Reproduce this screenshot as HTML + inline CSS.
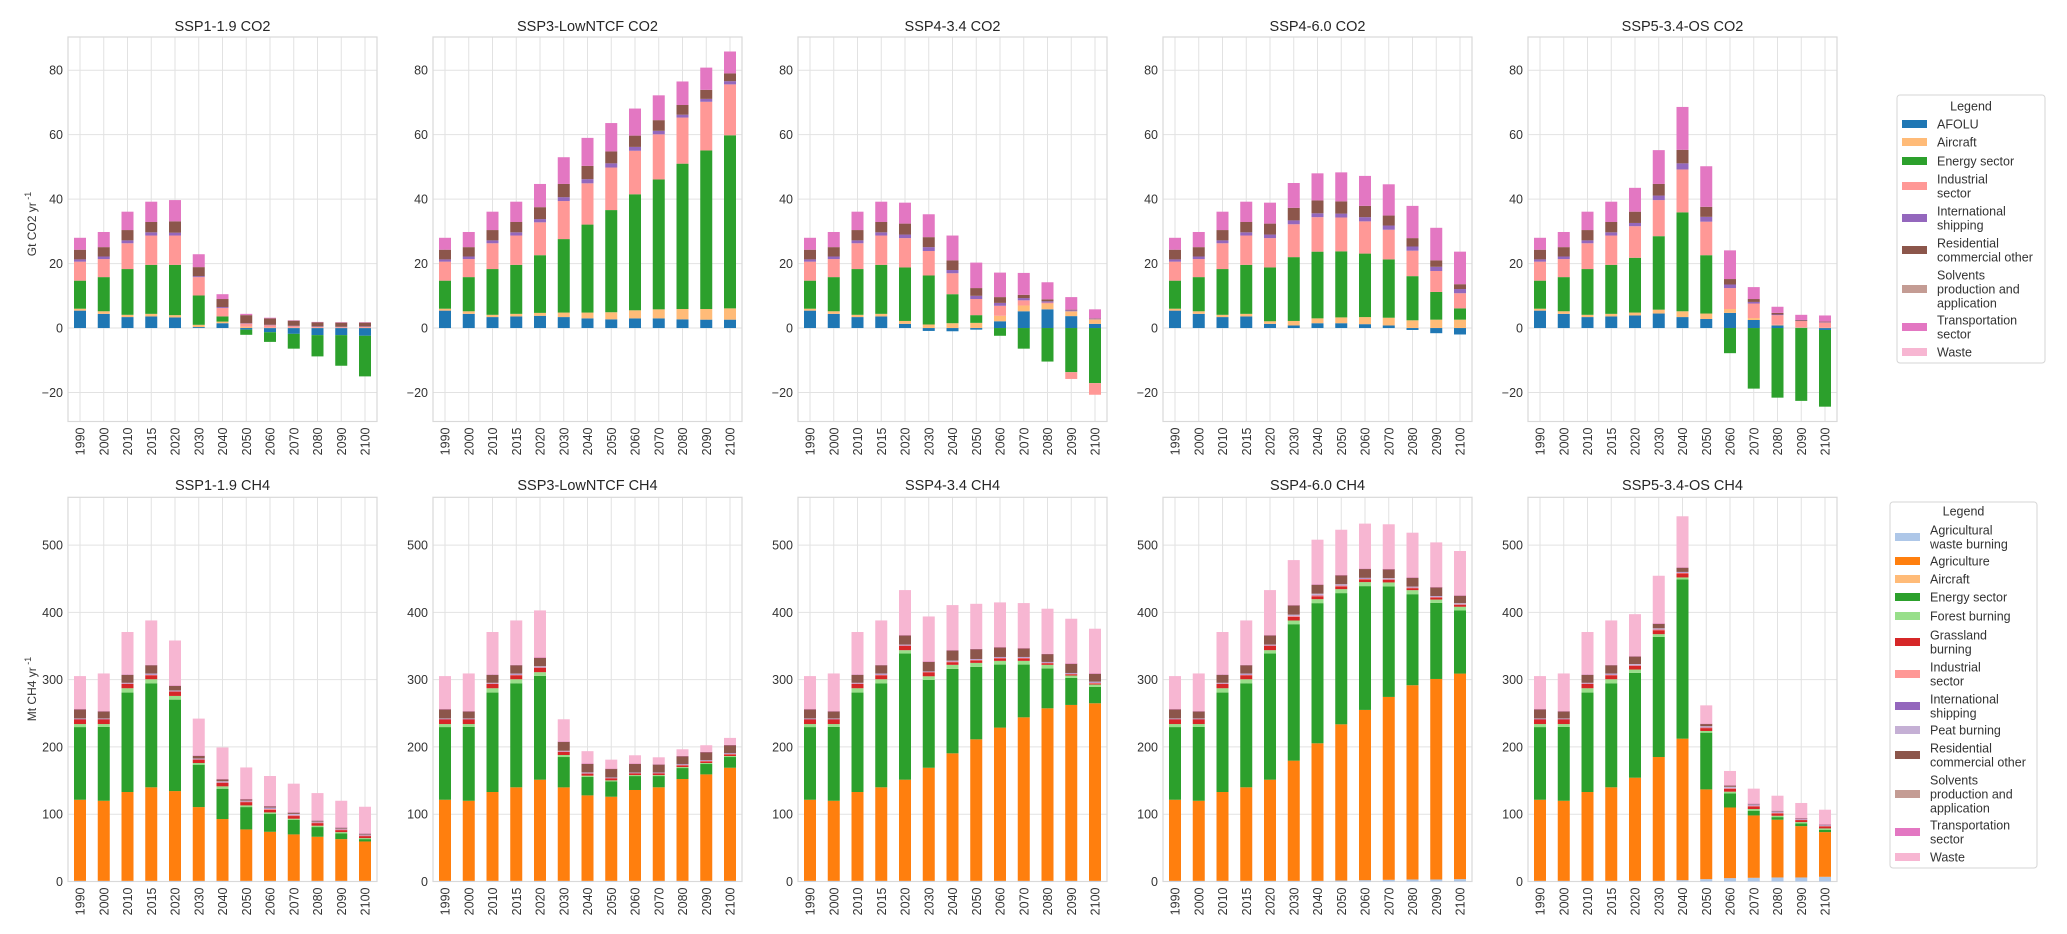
<!DOCTYPE html>
<html><head><meta charset="utf-8">
<style>
html,body{margin:0;padding:0;background:#fff;}
svg{display:block;font-family:"Liberation Sans",sans-serif;}
</style></head>
<body>
<svg id="chart" width="2067" height="934" viewBox="0 0 2067 934" xmlns="http://www.w3.org/2000/svg"></svg>
<script>
const years = ["1990","2000","2010","2015","2020","2030","2040","2050","2060","2070","2080","2090","2100"];
const co2Titles = ["SSP1-1.9 CO2","SSP3-LowNTCF CO2","SSP4-3.4 CO2","SSP4-6.0 CO2","SSP5-3.4-OS CO2"];
const ch4Titles = ["SSP1-1.9 CH4","SSP3-LowNTCF CH4","SSP4-3.4 CH4","SSP4-6.0 CH4","SSP5-3.4-OS CH4"];
const co2Ticks = [-20,0,20,40,60,80];
const ch4Ticks = [0,100,200,300,400,500];

// CO2 series (Gt CO2/yr) per scenario
const co2Afolu = [
 [5.4,4.4,3.4,3.6,3.3,0.3,1.5,-0.5,-1.3,-1.8,-2.2,-2.2,-2.4],
 [5.4,4.4,3.4,3.6,3.8,3.4,3.0,2.7,3.0,3.0,2.7,2.6,2.6],
 [5.4,4.4,3.4,3.6,1.3,-0.9,-1.0,-0.5,2.1,5.2,5.8,3.7,1.3],
 [5.4,4.4,3.4,3.6,1.3,0.8,1.5,1.5,1.2,0.8,-0.6,-1.6,-2.0],
 [5.4,4.4,3.4,3.6,3.9,4.5,3.4,2.8,4.7,2.5,0.8,0.1,-0.6]];
const co2Aircraft = [
 [0.6,0.8,0.7,0.8,0.7,0.7,0.5,0.4,0.1,0.1,0.1,0.1,0.1],
 [0.6,0.8,0.7,0.8,0.9,1.4,1.8,2.2,2.5,2.8,3.2,3.3,3.5],
 [0.6,0.8,0.7,0.8,0.9,1.1,1.5,1.6,1.7,1.8,1.8,1.5,1.4],
 [0.6,0.8,0.7,0.8,0.8,1.4,1.5,1.8,2.2,2.4,2.4,2.6,2.6],
 [0.6,0.8,0.7,0.8,0.9,1.2,1.8,1.7,1.2,0.6,0.2,0.1,0.1]];
const co2Energy = [
 [8.7,10.6,14.2,15.2,15.6,9.1,1.6,-1.6,-3.0,-4.6,-6.6,-9.5,-12.6],
 [8.7,10.6,14.2,15.2,17.9,22.8,27.3,31.7,36.0,40.3,45.1,49.2,53.7],
 [8.7,10.6,14.2,15.2,16.6,15.2,9.0,2.4,-2.4,-6.4,-10.4,-13.7,-17.1],
 [8.7,10.6,14.2,15.2,16.7,19.8,20.7,20.5,19.7,18.1,13.7,8.6,3.5],
 [8.7,10.6,14.2,15.2,17.0,22.8,30.7,18.1,-7.8,-18.8,-21.6,-22.6,-23.8]];
const co2Industrial = [
 [5.9,5.6,8.0,9.1,9.1,5.7,2.6,1.0,0.8,0.5,0.3,0.2,0.3],
 [5.9,5.6,8.0,9.1,10.2,11.8,12.8,13.2,13.5,14.0,14.3,15.1,15.8],
 [5.9,5.6,8.0,9.1,9.1,7.6,6.5,5.0,3.1,1.6,0.3,-2.1,-3.6],
 [5.9,5.6,8.0,9.1,9.1,10.2,10.7,10.5,10.0,9.2,7.9,6.5,4.7],
 [5.9,5.6,8.0,9.1,9.8,11.2,13.3,10.4,6.5,4.5,3.0,2.0,1.6]];
const co2Shipping = [
 [0.7,0.8,0.9,1.0,0.9,0.3,0.3,0.1,0.1,0.1,0.1,0.1,0.1],
 [0.7,0.8,0.9,1.0,1.0,1.2,1.3,1.3,1.2,1.1,0.9,0.9,1.0],
 [0.7,0.8,0.9,1.0,1.1,1.2,1.0,1.0,0.9,0.7,0.4,0.3,0.2],
 [0.7,0.8,0.9,1.0,1.1,1.2,1.2,1.2,1.3,1.3,1.3,1.3,1.3],
 [0.7,0.8,0.9,1.0,1.0,1.4,1.9,1.5,1.1,0.5,0.2,0.1,0.1]];
const co2Residential = [
 [3.0,2.9,3.2,3.2,3.5,2.8,2.5,2.5,2.0,1.6,1.3,1.3,1.2],
 [3.0,2.9,3.2,3.2,3.7,4.1,4.1,3.7,3.5,3.3,3.0,2.8,2.4],
 [3.0,2.9,3.2,3.2,3.4,3.1,3.0,2.4,1.8,1.0,0.6,0.2,0.1],
 [3.0,2.9,3.2,3.2,3.4,3.9,4.0,3.8,3.5,3.1,2.6,2.0,1.5],
 [3.0,2.9,3.2,3.2,3.5,3.6,4.2,3.1,1.7,0.9,0.5,0.2,0.2]];
const co2Transport = [
 [3.7,4.7,5.7,6.3,6.6,4.0,1.5,0.4,0.2,0.1,0.1,0.1,0.1],
 [3.7,4.7,5.7,6.3,7.2,8.3,8.7,8.8,8.4,7.7,7.3,6.9,6.8],
 [3.7,4.7,5.7,6.3,6.5,7.1,7.7,7.9,7.6,6.8,5.3,3.9,2.8],
 [3.7,4.7,5.7,6.3,6.5,7.7,8.4,9.0,9.3,9.7,10.0,10.1,10.1],
 [3.7,4.7,5.7,6.3,7.4,10.5,13.3,12.6,8.9,3.7,1.9,1.6,1.9]];

// CH4 series (Mt CH4/yr) per scenario
const ch4AgWaste = [
 [1,1,1,1,1,1,1,1,1,1,1,1,1],
 [1,1,1,1,1,1,1,1,1,1,1,1,1],
 [1,1,1,1,1,1,1,1,1,1,1,1,1],
 [1,1,1,1,1,1,1,1.5,2,2.5,3,3,3.5],
 [1,1,1,1,1,1,2,3.5,5,5.5,6,6,7]];
const ch4Agriculture = [
 [120.5,119,132,139,133.4,109.6,91.8,76.4,72.9,69,65.5,62,58.5],
 [120.5,119,132,139,150.3,138.9,127,125,135,139,151.3,158.2,168.1],
 [120.5,119,132,139,150.3,168.1,189.5,210.3,227.7,243,256.4,261.4,263.9],
 [120.5,119,132,139,150.3,178.6,204.4,232.1,253,271.8,288.7,298,305.5],
 [120.5,119,132,139,153.3,184,210.3,133.4,105,92.7,85.8,76.3,66.4]];
const ch4Energy = [
 [108,109.7,147.8,154.6,135.9,63,45.1,33.2,26.8,21.8,14.4,8.4,3.5],
 [108,109.7,147.8,154.6,154.3,45.1,27.3,22.8,20.7,16.7,16.3,15.4,15.9],
 [108,109.7,147.8,154.6,187.5,130.5,125.5,107.6,93.7,78.4,59.1,40.2,24.3],
 [108,109.7,147.8,154.6,187.5,202.8,208.3,195,184,164.2,135.3,113,93.8],
 [108,109.7,147.8,154.6,155.7,178.6,236.7,84.3,21,7,3.9,4,3.5]];
const ch4Forest = [
 [4.5,4.3,6.4,6,5.5,2.5,3.5,2.5,2,1.5,2,2,1.5],
 [4.5,4.3,6.4,6,5.5,3,2,1.5,1.5,1.5,1.5,1.5,1.5],
 [4.5,4.3,6.4,6,5,5.4,6,6,5.5,5.5,5.5,3.5,3.5],
 [4.5,4.3,6.4,6,5,5.5,5.9,5.9,6,6,6,5,5.5],
 [4.5,4.3,6.4,6,5,4,2.9,2.5,2.5,2.5,2,2,2]];
const ch4Grassland = [
 [7,7,6.6,6,6.4,5,5.3,4.9,4,4,3.9,3,3],
 [7,7,6.6,6,6.5,4.5,3,3,2.5,2.5,2.5,2.5,2.5],
 [7,7,6.6,6,6.5,6,4,3.5,3.5,3.5,2.5,2,1.5],
 [7,7,6.6,6,6.5,5.4,4.4,4,4,4,3,3,3],
 [7,7,6.6,6,5.4,5.9,5.9,4.3,4,4,3.5,3,3]];
const ch4Industrial = [
 [0.5,0.5,0.5,0.8,0.8,0.8,1,1,1.4,1.4,1,1,1],
 [0.5,0.5,0.5,0.8,1,0.8,0.8,0.6,0.6,0.6,0.8,0.8,0.8],
 [0.5,0.5,0.5,0.8,0.8,0.6,1,1,1,1,0.8,0.8,1.2],
 [0.5,0.5,0.5,0.8,0.8,1.4,1.6,1.4,1,1,1,1,1],
 [0.5,0.5,0.5,0.8,1.2,1.2,1,1.2,1.4,1.2,1.2,0.8,0.8]];
const ch4Shipping = [
 [0.2,0.2,0.3,0.3,0.3,0.3,0.3,0.3,0.4,0.4,0.4,0.4,0.4],
 [0.2,0.2,0.3,0.3,0.3,0.3,0.3,0.3,0.3,0.3,0.3,0.3,0.3],
 [0.2,0.2,0.3,0.3,0.3,0.3,0.3,0.3,0.3,0.3,0.3,0.3,0.3],
 [0.2,0.2,0.3,0.3,0.3,0.3,0.3,0.3,0.3,0.3,0.3,0.3,0.3],
 [0.2,0.2,0.3,0.3,0.3,0.3,0.3,0.3,0.3,0.3,0.3,0.3,0.3]];
const ch4Peat = [
 [0.6,0.6,0.7,1.4,0.6,0.6,0.9,0.9,1.4,1.4,0.8,0.8,0.8],
 [0.6,0.6,0.7,1.4,1,0.7,0.7,0.4,0.4,0.4,0.7,0.7,0.7],
 [0.6,0.6,0.7,1.4,0.7,0.4,1,1,1,1,0.7,0.7,1.3],
 [0.6,0.6,0.7,1.4,0.7,1.6,1.9,1.6,1,1,1,1,1],
 [0.6,0.6,0.7,1.4,1.3,1.3,1,1.3,1.6,1.3,1.3,0.7,0.7]];
const ch4Residential = [
 [13.5,10.4,12,12.4,7,4,3,2,1.9,2,1.5,1.5,1.5],
 [13.5,10.4,12,12.4,12.8,13.4,13,12.9,13,12,12,12,12],
 [13.5,10.4,12,12.4,13.8,14.4,15.3,14.8,14.4,12.9,11.9,13.9,12],
 [13.5,10.4,12,12.4,13.8,13.9,13.5,13.4,13.4,13.4,13.4,13,11.4],
 [13.5,10.4,12,12.4,11.4,6.9,6.5,3.5,2,1,1,1,1]];
const ch4Transport = [
 [0.5,0.5,0.5,0.5,0.3,0.3,0.3,0.3,0.3,0.3,0.3,0.3,0.3],
 [0.5,0.5,0.5,0.5,0.2,0.2,0.2,0.2,0.2,0.2,0.2,0.2,0.2],
 [0.5,0.5,0.5,0.5,0.2,0.2,0.2,0.2,0.2,0.2,0.2,0.2,0.2],
 [0.5,0.5,0.5,0.5,0.2,0.2,0.2,0.2,0.2,0.2,0.2,0.2,0.2],
 [0.5,0.5,0.5,0.5,0.2,0.2,0.2,0.2,0.2,0.2,0.2,0.2,0.2]];
const ch4Waste = [
 [49,56,63,66,67,55,47,47,44.7,42.6,40.6,39.6,39.6],
 [49,56,63,66,70,33.2,18.4,13.4,12.4,10.4,9.9,9.9,10.4],
 [49,56,63,66,67,67,67,67,66.5,67,67,66.5,66.5],
 [49,56,63,66,67,67,66.5,67.4,67,66.5,66.5,66.5,66],
 [49,56,63,66,62.5,71,76,27.3,21.3,22.3,22.3,22.4,21.8]];

const C = {afolu:"#1f77b4",aircraft:"#ffbb78",energy:"#2ca02c",industrial:"#ff9896",shipping:"#9467bd",
 residential:"#8c564b",solvents:"#c49c94",transport:"#e377c2",waste:"#f7b6d2",agwaste:"#aec7e8",
 agriculture:"#ff7f0e",forest:"#98df8a",grassland:"#d62728",peat:"#c5b0d5"};

const co2Series = [["afolu",co2Afolu],["aircraft",co2Aircraft],["energy",co2Energy],["industrial",co2Industrial],
 ["shipping",co2Shipping],["residential",co2Residential],["transport",co2Transport]];
const ch4Series = [["agwaste",ch4AgWaste],["agriculture",ch4Agriculture],["energy",ch4Energy],["forest",ch4Forest],
 ["grassland",ch4Grassland],["industrial",ch4Industrial],["shipping",ch4Shipping],["peat",ch4Peat],
 ["residential",ch4Residential],["transport",ch4Transport],["waste",ch4Waste]];

const NS="http://www.w3.org/2000/svg";
const svg=document.getElementById("chart");
function mk(tag,attrs,parent){const e=document.createElementNS(NS,tag);for(const k in attrs)e.setAttribute(k,attrs[k]);(parent||svg).appendChild(e);return e;}

const PW=309, PX0=68, PSTEP=365, BW=12, BSTEP=23.75, BOFF=12;
const rows=[
 {top:37,bottom:421.5,ymin:-29,ymax:90.3,ticks:co2Ticks,titles:co2Titles,series:co2Series,titleY:31,label:"Gt CO2 yr",labelY:224,kind:"co2"},
 {top:497.3,bottom:881.5,ymin:0,ymax:571,ticks:ch4Ticks,titles:ch4Titles,series:ch4Series,titleY:490,label:"Mt CH4 yr",labelY:689,kind:"ch4"}];

rows.forEach(function(r){
 const yScale=function(v){return r.bottom-(v-r.ymin)/(r.ymax-r.ymin)*(r.bottom-r.top);};
 const g0=mk("g",{});
 
 
 const yl=mk("text",{x:0,y:0,"font-size":12,fill:"#333","text-anchor":"middle",transform:"translate(36,"+r.labelY+") rotate(-90)"},g0);
 yl.textContent=r.label;
 const sup=mk("tspan",{"font-size":9,dy:-5},yl); sup.textContent=" -1";
 
 
 for(let p=0;p<5;p++){
  const x0=PX0+p*PSTEP;
  const g=mk("g",{},g0);
  
  
  mk("rect",{x:x0,y:r.top,width:PW,height:r.bottom-r.top,fill:"#fff"},g);
  const t=mk("text",{x:x0+PW/2,y:r.titleY,"font-size":14.5,fill:"#262626","text-anchor":"middle"},g);
  t.textContent=r.titles[p];
  
  
  r.ticks.forEach(function(tv){
   const y=yScale(tv);
   mk("line",{x1:x0,x2:x0+PW,y1:y,y2:y,stroke:"#e2e2e2","stroke-width":1},g);
   const tl=mk("text",{x:x0-5,y:y+4.5,"font-size":12.5,fill:"#333","text-anchor":"end"},g);
   tl.textContent=(tv<0?"\u2212"+Math.abs(tv):String(tv));
   
   
  });
  years.forEach(function(yr,i){
   const cx=x0+BOFF+i*BSTEP;
   mk("line",{x1:cx,x2:cx,y1:r.top,y2:r.bottom,stroke:"#e2e2e2","stroke-width":1},g);
   const xl=mk("text",{x:0,y:0,"font-size":12.5,fill:"#333","text-anchor":"end",transform:"translate("+(cx+4.5)+","+(r.bottom+6)+") rotate(-90)"},g);
   xl.textContent=yr;
   
   
  });
  mk("rect",{x:x0,y:r.top,width:PW,height:r.bottom-r.top,fill:"none",stroke:"#d9d9d9","stroke-width":1.2},g);
  years.forEach(function(yr,i){
   const cx=x0+BOFF+i*BSTEP;
   let pos=0,neg=0;
   r.series.forEach(function(s){
    const v=s[1][p][i];
    if(!v)return;
    let a,b;
    if(v>0){a=pos;b=pos+v;pos=b;}else{a=neg;b=neg+v;neg=b;}
    const y1=yScale(Math.max(a,b)),y2=yScale(Math.min(a,b));
    const bar=mk("rect",{x:cx-BW/2,y:y1,width:BW,height:Math.max(0.4,y2-y1),fill:C[s[0]]},g);
    
    
   });
  });
 }
});

// Legends
function legend(box,titleY,items,name){
 const g=mk("g",{});
 
 
 mk("rect",{x:box[0],y:box[1],width:box[2]-box[0],height:box[3]-box[1],rx:3,fill:"#fff",stroke:"#d6d6d6","stroke-width":1},g);
 const t=mk("text",{x:(box[0]+box[2])/2,y:titleY+4.5,"font-size":12.5,fill:"#333","text-anchor":"middle"},g);
 t.textContent="Legend";
 items.forEach(function(it){
  const e=mk("g",{},g);
  
  
  mk("rect",{x:box[0]+5,y:it[2]-4,width:25,height:8,fill:C[it[0]]},e);
  const n=it[1].length;
  it[1].forEach(function(line,k){
   const tx=mk("text",{x:box[0]+40,y:it[2]+4.5+(k-(n-1)/2)*14,"font-size":12.5,fill:"#333"},e);
   tx.textContent=line;
  });
 });
}
legend([1897,95,2045,363],106,[
 ["afolu",["AFOLU"],124],["aircraft",["Aircraft"],142],["energy",["Energy sector"],161],
 ["industrial",["Industrial","sector"],186],["shipping",["International","shipping"],218],
 ["residential",["Residential","commercial other"],250],["solvents",["Solvents","production and","application"],289],
 ["transport",["Transportation","sector"],327],["waste",["Waste"],352]],"co2-legend");
legend([1890,502,2037,868],511,[
 ["agwaste",["Agricultural","waste burning"],537],["agriculture",["Agriculture"],561],["aircraft",["Aircraft"],579],
 ["energy",["Energy sector"],597],["forest",["Forest burning"],616],["grassland",["Grassland","burning"],642],
 ["industrial",["Industrial","sector"],674],["shipping",["International","shipping"],706],["peat",["Peat burning"],730],
 ["residential",["Residential","commercial other"],755],["solvents",["Solvents","production and","application"],794],
 ["transport",["Transportation","sector"],832],["waste",["Waste"],857]],"ch4-legend");
</script>
</body></html>
